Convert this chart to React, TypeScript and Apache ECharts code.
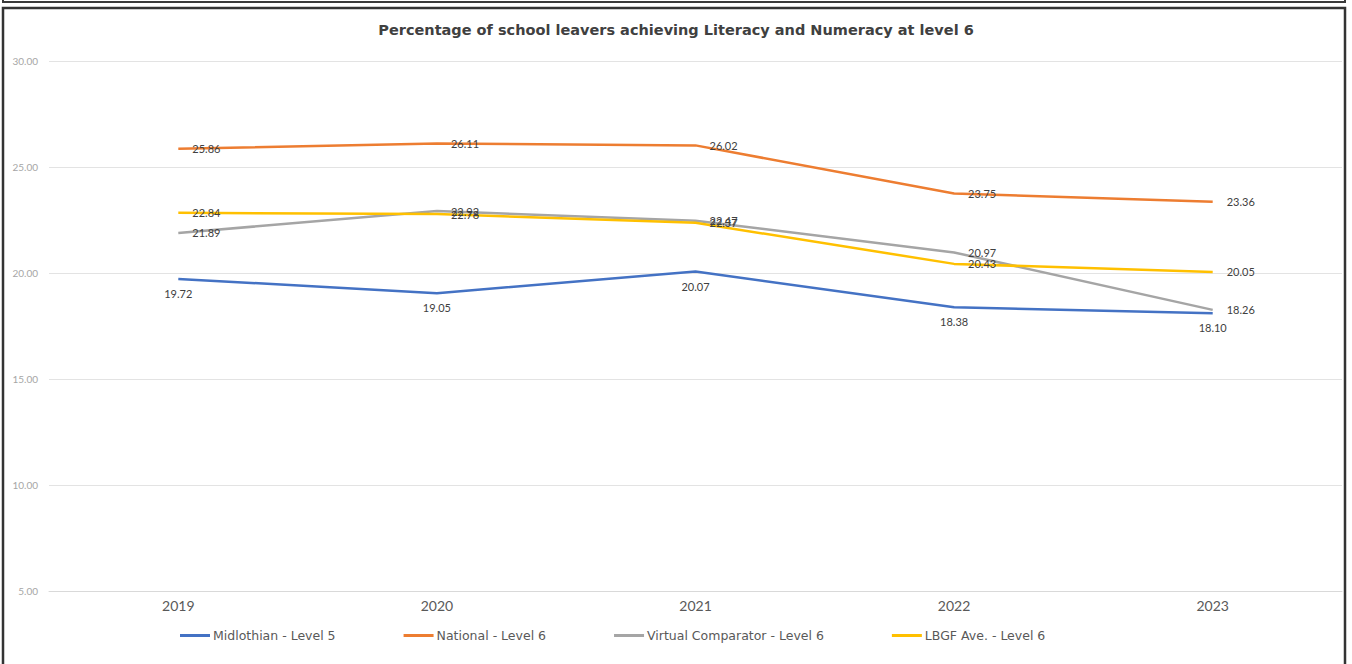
import React, { useEffect, useRef } from "react";
import * as echarts from "echarts";

// Leaver years shown along the horizontal axis
const years = ["2019", "2020", "2021", "2022", "2023"];

// Percentage of leavers per measure and year
const midlothianL5 = [19.72, 19.05, 20.07, 18.38, 18.1];
const nationalL6 = [25.86, 26.11, 26.02, 23.75, 23.36];
const virtualComparatorL6 = [21.89, 22.92, 22.47, 20.97, 18.26];
const lbgfAveL6 = [22.84, 22.78, 22.37, 20.43, 20.05];

// Value axis range
const yMin = 5;
const yMax = 30;
const yStep = 5;

const FONT = "Lato, 'Open Sans', sans-serif";
const WIDE_FONT = "'DejaVu Sans', 'Open Sans', sans-serif";

const seriesDefs = [
  { name: "Midlothian - Level 5", data: midlothianL5, color: "#4472C4", labelPos: "bottom" },
  { name: "National - Level 6", data: nationalL6, color: "#ED7D31", labelPos: "right" },
  { name: "Virtual Comparator - Level 6", data: virtualComparatorL6, color: "#A5A5A5", labelPos: "right" },
  { name: "LBGF Ave. - Level 6", data: lbgfAveL6, color: "#FFC000", labelPos: "right" },
];

export default function App() {
  const ref = useRef<HTMLDivElement>(null);

  useEffect(() => {
    if (!ref.current) return;
    const chart = echarts.init(ref.current, undefined, { renderer: "svg" });

    chart.setOption({
      animation: false,
      backgroundColor: "#ffffff",
      title: {
        text: "Percentage of school leavers achieving Literacy and Numeracy at level 6",
        left: "center",
        top: 22,
        padding: 0,
        textStyle: {
          fontFamily: WIDE_FONT,
          fontSize: 14.5,
          fontWeight: "bold",
          color: "#404040",
        },
      },
      grid: { left: 49, right: 10, top: 61, bottom: 73, containLabel: false },
      xAxis: {
        type: "category",
        data: years,
        boundaryGap: true,
        axisLine: { show: true, lineStyle: { color: "#d9d9d9", width: 1 } },
        axisTick: { show: false },
        axisLabel: {
          margin: 7,
          fontFamily: FONT,
          fontSize: 14,
          color: "#595959",
        },
      },
      yAxis: {
        type: "value",
        min: yMin,
        max: yMax,
        interval: yStep,
        axisLine: { show: false },
        axisTick: { show: false },
        splitLine: { lineStyle: { color: "#e3e3e3", width: 1 } },
        axisLabel: {
          margin: 11,
          fontFamily: FONT,
          fontSize: 10,
          color: "#a6a6a6",
          formatter: (v: number) => v.toFixed(2),
        },
      },
      legend: {
        left: 180,
        top: 629,
        padding: 0,
        itemGap: 68,
        itemWidth: 30,
        itemHeight: 3,
        icon: "rect",
        textStyle: { fontFamily: WIDE_FONT, fontSize: 12.5, color: "#595959", padding: [0, 0, 0, -2] },
        data: seriesDefs.map((s) => s.name),
      },
      series: seriesDefs.map((s) => ({
        name: s.name,
        type: "line",
        data: s.data,
        symbol: "circle",
        symbolSize: 0,
        showSymbol: true,
        lineStyle: { color: s.color, width: 2.5 },
        itemStyle: { color: s.color },
        label: {
          show: true,
          position: s.labelPos,
          distance: s.labelPos === "right" ? 14 : 9,
          fontFamily: FONT,
          fontSize: 11,
          color: "#404040",
          formatter: (p: any) => Number(p.value).toFixed(2),
        },
        emphasis: { disabled: true },
      })),
      graphic: [
        {
          type: "rect",
          shape: { x: 3, y: -6, width: 1342, height: 8 },
          style: { fill: "none", stroke: "#3a3a3a", lineWidth: 2 },
          silent: true,
        },
        {
          type: "rect",
          shape: { x: 3, y: 8, width: 1342, height: 680 },
          style: { fill: "none", stroke: "#333333", lineWidth: 2.5 },
          silent: true,
        },
      ],
    });

    return () => chart.dispose();
  }, []);

  return (
    <div
      ref={ref}
      style={{ position: "absolute", left: 0, top: 0, width: 1352, height: 664, background: "#ffffff" }}
    />
  );
}
